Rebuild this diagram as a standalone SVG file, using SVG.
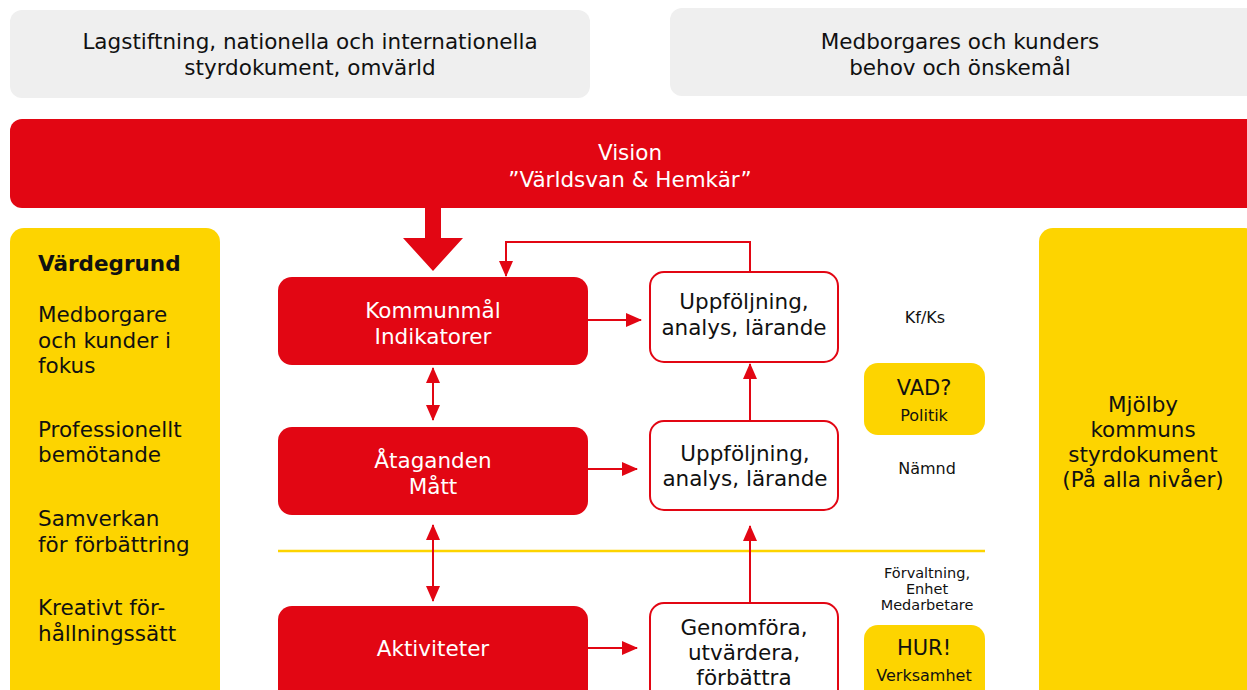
<svg xmlns="http://www.w3.org/2000/svg" width="1247" height="690" viewBox="0 0 1247 690">
<style>
  text { font-family: "DejaVu Sans", "Noto Sans", sans-serif; }
  .gray { fill: #efefef; }
  .red { fill: #e20613; }
  .yel { fill: #fdd400; }
  .wbox { fill: #ffffff; stroke: #e20613; stroke-width: 2; }
  .t20 { font-size: 21.5px; fill: #111; }
  .w20 { font-size: 21.5px; fill: #fff; }
  .t14 { font-size: 16px; fill: #111; }
  .t13 { font-size: 14.5px; fill: #111; }
  .t18 { font-size: 21px; fill: #111; }
  .c { text-anchor: middle; }
  .con { stroke: #e20613; stroke-width: 2; fill: none; }
</style>
<defs>
  <marker id="ahw" markerWidth="16" markerHeight="14" refX="15" refY="7" orient="auto-start-reverse" markerUnits="userSpaceOnUse">
    <path d="M0,0 L16,7 L0,14 Z" fill="#e20613"/>
  </marker>
</defs>

<g id="omvarld">
  <rect class="gray" x="10" y="10" width="580" height="88" rx="12"/>
  <text class="t20 c" x="310" y="49">Lagstiftning, nationella och internationella</text>
  <text class="t20 c" x="310" y="75">styrdokument, omvärld</text>
</g>
<g id="medborgare">
  <rect class="gray" x="670" y="8" width="590" height="88" rx="12"/>
  <text class="t20 c" x="960" y="49">Medborgares och kunders</text>
  <text class="t20 c" x="960" y="75">behov och önskemål</text>
</g>
<g id="vision">
  <rect class="red" x="10" y="119" width="1250" height="89" rx="12"/>
  <text class="w20 c" x="630" y="160">Vision</text>
  <text class="w20 c" x="630" y="187">”Världsvan &amp; Hemkär”</text>
</g>

<g id="vardegrund">
  <rect class="yel" x="10" y="228" width="210" height="480" rx="14"/>
  <text class="t20" x="38" y="271" font-weight="bold">Värdegrund</text>
  <text class="t20" x="38" y="322">Medborgare</text>
  <text class="t20" x="38" y="348">och kunder i</text>
  <text class="t20" x="38" y="373">fokus</text>
  <text class="t20" x="38" y="437">Professionellt</text>
  <text class="t20" x="38" y="462">bemötande</text>
  <text class="t20" x="38" y="526">Samverkan</text>
  <text class="t20" x="38" y="552">för förbättring</text>
  <text class="t20" x="38" y="615">Kreativt för-</text>
  <text class="t20" x="38" y="641">hållningssätt</text>
</g>

<g id="styrdokument">
  <rect class="yel" x="1039" y="228" width="220" height="480" rx="14"/>
  <text class="t20 c" x="1143" y="412">Mjölby</text>
  <text class="t20 c" x="1143" y="437">kommuns</text>
  <text class="t20 c" x="1143" y="462">styrdokument</text>
  <text class="t20 c" x="1143" y="487">(På alla nivåer)</text>
</g>

<g id="kommunmal">
  <rect class="red" x="278" y="277" width="310" height="88" rx="14"/>
  <text class="w20 c" x="433" y="318">Kommunmål</text>
  <text class="w20 c" x="433" y="344">Indikatorer</text>
</g>
<g id="uppfoljning1">
  <rect class="wbox" x="650" y="272" width="188" height="90" rx="14"/>
  <text class="t20 c" x="744" y="309">Uppföljning,</text>
  <text class="t20 c" x="744" y="335">analys, lärande</text>
</g>
<g id="ataganden">
  <rect class="red" x="278" y="427" width="310" height="88" rx="14"/>
  <text class="w20 c" x="433" y="468">Åtaganden</text>
  <text class="w20 c" x="433" y="494">Mått</text>
</g>
<g id="uppfoljning2">
  <rect class="wbox" x="650" y="421" width="188" height="89" rx="14"/>
  <text class="t20 c" x="745" y="461">Uppföljning,</text>
  <text class="t20 c" x="745" y="486">analys, lärande</text>
</g>
<g id="aktiviteter">
  <rect class="red" x="278" y="606" width="310" height="100" rx="14"/>
  <text class="w20 c" x="433" y="656">Aktiviteter</text>
</g>
<g id="genomfora">
  <rect class="wbox" x="650" y="603" width="188" height="100" rx="14"/>
  <text class="t20 c" x="744" y="635">Genomföra,</text>
  <text class="t20 c" x="744" y="660">utvärdera,</text>
  <text class="t20 c" x="744" y="685">förbättra</text>
</g>

<g id="nivaer">
  <text class="t14 c" x="925" y="323">Kf/Ks</text>
  <text class="t14 c" x="927" y="474">Nämnd</text>
  <text class="t13 c" x="927" y="578">Förvaltning,</text>
  <text class="t13 c" x="927" y="594">Enhet</text>
  <text class="t13 c" x="927" y="610">Medarbetare</text>
</g>
<g id="vad">
  <rect class="yel" x="864" y="363" width="121" height="72" rx="14"/>
  <text class="t18 c" x="924" y="395">VAD?</text>
  <text class="t14 c" x="924" y="421">Politik</text>
</g>
<g id="hur">
  <rect class="yel" x="864" y="625" width="121" height="80" rx="14"/>
  <text class="t18 c" x="924" y="655">HUR!</text>
  <text class="t14 c" x="924" y="681">Verksamhet</text>
</g>

<line id="divider" x1="278" y1="551" x2="985" y2="551" stroke="#fdd400" stroke-width="2.5"/>

<g id="connectors">
  <path d="M425,208 L441,208 L441,238 L463,238 L433,271 L403,238 L425,238 Z" fill="#e20613"/>
  <path class="con" d="M750,272 L750,242 L506,242 L506,276" marker-end="url(#ahw)"/>
  <line class="con" x1="588" y1="320" x2="641" y2="320" marker-end="url(#ahw)"/>
  <line class="con" x1="588" y1="469" x2="637" y2="469" marker-end="url(#ahw)"/>
  <line class="con" x1="588" y1="648" x2="637" y2="648" marker-end="url(#ahw)"/>
  <line class="con" x1="433" y1="368" x2="433" y2="420" marker-start="url(#ahw)" marker-end="url(#ahw)"/>
  <line class="con" x1="433" y1="525" x2="433" y2="601" marker-start="url(#ahw)" marker-end="url(#ahw)"/>
  <line class="con" x1="750" y1="421" x2="750" y2="364" marker-end="url(#ahw)"/>
  <line class="con" x1="750" y1="603" x2="750" y2="526" marker-end="url(#ahw)"/>
</g>
</svg>
